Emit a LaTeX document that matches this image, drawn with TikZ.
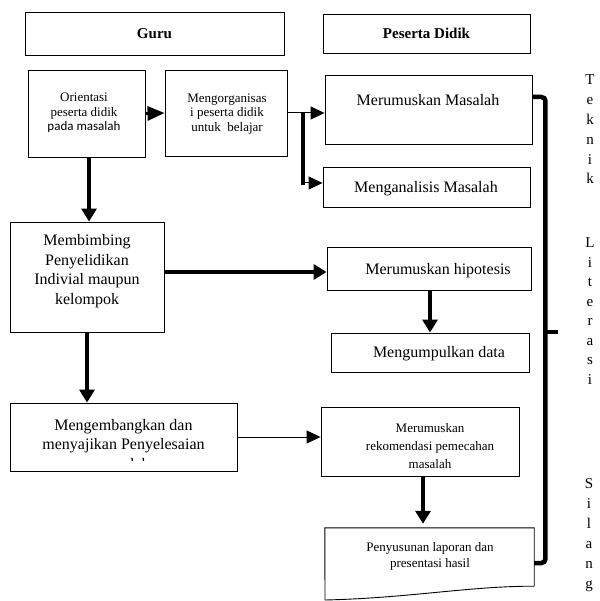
\documentclass[tikz,border=0pt]{standalone}
\usepackage{fontspec}
\setmainfont{Liberation Serif}
\newfontfamily\calfont{Carlito}
\usetikzlibrary{arrows.meta,calc}
\newcommand\fsHead{\fontsize{15}{18}\selectfont\bfseries}
\newcommand\fsSmall{\fontsize{13}{14.5}\selectfont}
\newcommand\fsBig{\fontsize{16}{19.5}\selectfont}
\newcommand\fsRek{\fontsize{13}{18}\selectfont}
\newcommand\fsPs{\fontsize{13}{16}\selectfont}
\begin{document}
\begin{tikzpicture}[x=1pt,y=-1pt,
  box/.style={draw, line width=0.9pt, inner sep=0pt},
  txt/.style={inner sep=0pt, align=center},
  thk/.style={line width=4pt, -{Triangle[length=13pt,width=15pt]}},
  thn/.style={line width=1pt, -{Triangle[length=14pt,width=13pt]}},
  brace/.style={line width=4.5pt, rounded corners=4pt},
  let/.style={inner sep=0pt, anchor=base, font=\fontsize{15}{17}\selectfont}]
\useasboundingbox (0,0) rectangle (599,601);

% header boxes
\node[box, minimum width=259, minimum height=43] (guru) at (154.5,33.5) {};
\node[txt, font=\fsHead] (gurut) at (154.5,33.5) {Guru};
\node[box, minimum width=207, minimum height=39] (pd) at (426.5,33.5) {};
\node[txt, font=\fsHead] (pdt) at (426.5,33.5) {Peserta Didik};

% Guru column
\node[box, minimum width=117, minimum height=87] (ori) at (86.5,113.5) {};
\node[txt, font=\fsSmall] (orit) at (84,113) {Orientasi\\peserta didik\\{\calfont pada masalah}};
\node[box, minimum width=122, minimum height=86] (org) at (226,113) {};
\node[txt, font=\fsSmall] (orgt) at (227,114) {Mengorganisas\\i peserta didik\\untuk~ belajar};
\node[box, minimum width=154, minimum height=110] (mb) at (87,277) {};
\node[txt, font=\fsBig] (mbt) at (87,271) {Membimbing\\Penyelidikan\\Indivial maupun\\kelompok};
\node[box, minimum width=227, minimum height=68] (me) at (123.5,437) {};
\begin{scope}
  \clip (10,403) rectangle (237,460);
  \node[txt, font=\fsBig] (met) at (123.5,444.5) {Mengembangkan dan\\menyajikan Penyelesaian\\masalah};
\end{scope}

% Peserta didik column
\node[box, minimum width=207, minimum height=69] (mm) at (428.5,109.5) {};
\node[txt, font=\fsBig] (mmt) at (428,100) {Merumuskan Masalah};
\node[box, minimum width=207, minimum height=40] (ma) at (426.5,187) {};
\node[txt, font=\fsBig] (mat) at (426,189) {Menganalisis Masalah};
\node[box, minimum width=204, minimum height=43] (mh) at (429,268.5) {};
\node[txt, font=\fsBig] (mht) at (438,271) {Merumuskan hipotesis};
\node[box, minimum width=198, minimum height=39] (md) at (430,352.5) {};
\node[txt, font=\fsBig] (mdt) at (439,354) {Mengumpulkan data};
\node[box, minimum width=198, minimum height=69] (mr) at (420,441.5) {};
\node[txt, font=\fsRek] (mrt) at (430,446) {Merumuskan\\rekomendasi pemecahan\\masalah};

% document shape
\node[inner sep=0pt, minimum width=209, minimum height=58] (ps) at (429.5,557) {};
\draw[line width=0.9pt] (ps.south east) -- (ps.north east) -- (ps.north west) -- (325,600)
  .. controls (410,598) and (470,586) .. (ps.south east);
\node[txt, font=\fsPs] (pst) at (430,556) {Penyusunan laporan dan\\presentasi hasil};

% connectors
\draw[line width=3pt, -{Triangle[length=17pt,width=14pt]}] (ori.east) -- (org.west);
\draw[thk] ([xshift=2.5pt]ori.south) -- ([xshift=2.5pt]ori.south |- mb.north);
\coordinate (bt) at (303,113);
\coordinate (bb) at (303,185);
\coordinate (bl) at (303,183);
\draw[line width=1pt] (org.east) -- (org.east -| bt);
\draw[line width=4pt] ([yshift=0.5pt]bt) -- (bb);
\draw[thn] (bt) -- (bt -| mm.west);
\draw[thn] (bl) -- (bl -| ma.west);
\draw[thk] ($(mb.east)+(0,-5)$) -- ($(mb.east -| mh.west)+(0,-5)$);
\draw[thk] ([xshift=1pt]mh.south) -- ([xshift=1pt]mh.south |- md.north);
\draw[thk] (mb.south) -- (mb.south |- me.north);
\draw[thn] (me.east) -- (me.east -| mr.west);
\draw[thk, shorten >=4pt] ([xshift=3pt]mr.south) -- ([xshift=3pt]mr.south |- ps.north);

% brace
\coordinate (bT) at ($(mm.east)+(0,-12.5)$);
\coordinate (bB) at ($(ps.east)+(0,6)$);
\coordinate (bM) at (545,332);
\draw[brace] (bT) -- ++(13,0) |- (bB);
\draw[brace] (bM) -- ++(13,0);

% vertical letters
\foreach \c [count=\i] in {T,e,k,n,i,k}
  \node[let] (ta\i) at (590,{85+19.8*(\i-1)}) {\c};
\foreach \c [count=\i] in {L,i,t,e,r,a,s,i}
  \node[let] (tb\i) at (590,{247.5+19.5*(\i-1)}) {\c};
\foreach \c [count=\i] in {S,i,l,a,n,g}
  \node[let] (tc\i) at (589,{488.5+20*(\i-1)}) {\c};
\end{tikzpicture}
\end{document}
